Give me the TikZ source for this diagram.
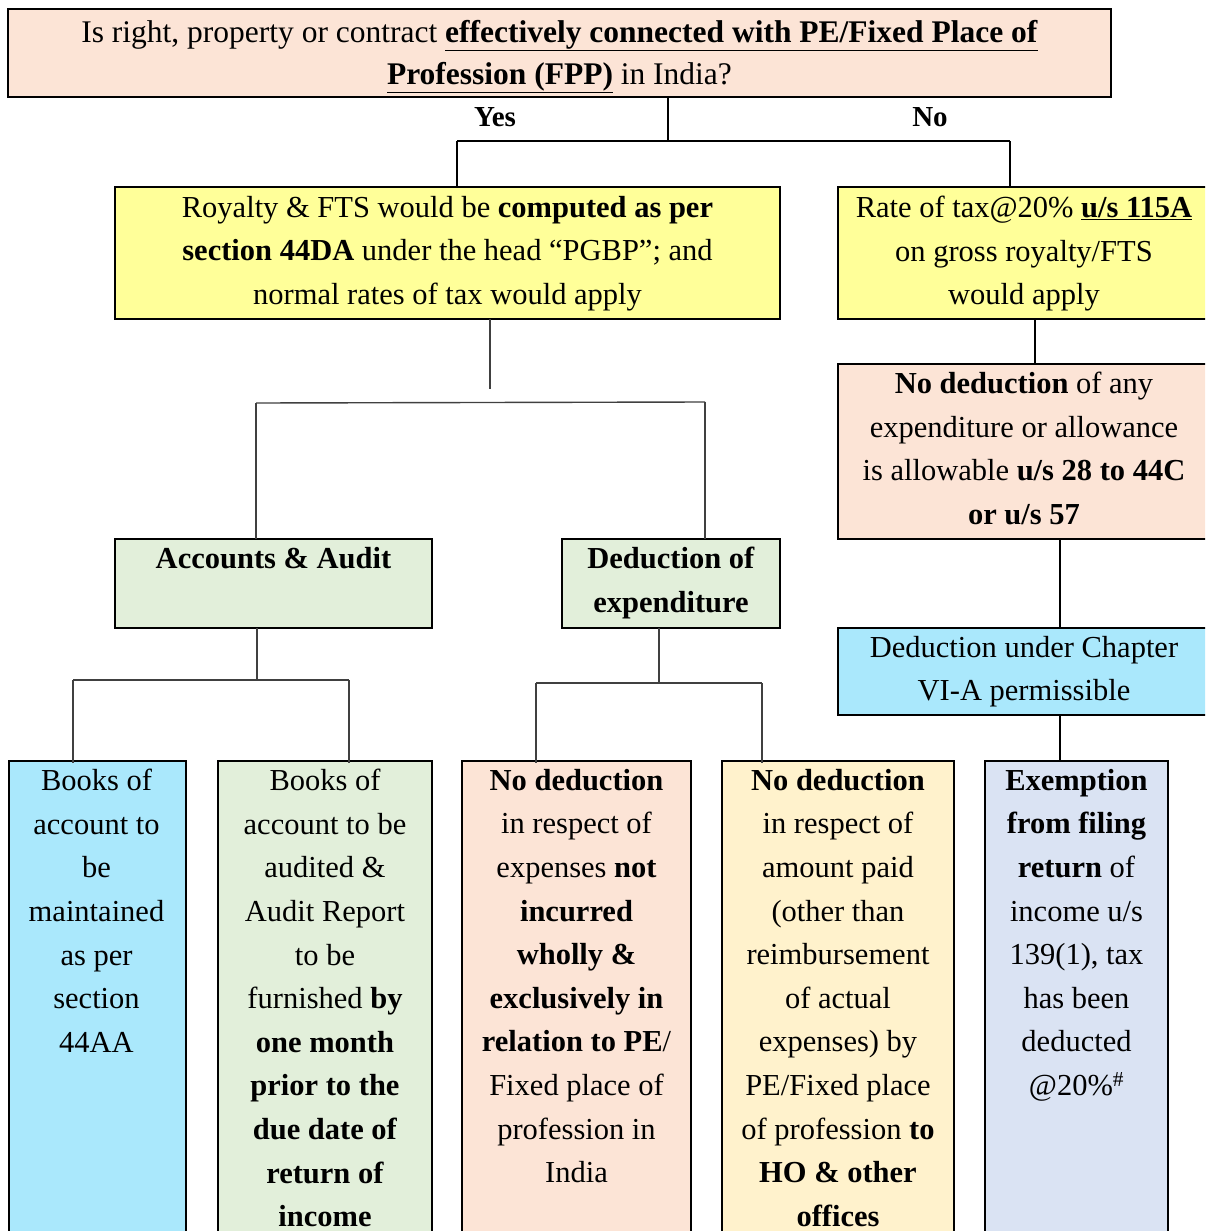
\documentclass[tikz,border=0pt]{standalone}
\usepackage{fontspec}
\setmainfont{Liberation Serif}
\definecolor{peach}{HTML}{FCE4D6}
\definecolor{yel}{HTML}{FFFF99}
\definecolor{grn}{HTML}{E2EFDA}
\definecolor{cyn}{HTML}{AAE8FC}
\definecolor{lyel}{HTML}{FFF2CC}
\definecolor{lblu}{HTML}{DAE3F3}
\definecolor{thinline}{HTML}{404040}
\tikzset{
  box/.style={draw=black, line width=2pt, inner sep=0pt, outer sep=0pt, anchor=north west},
  txt/.style={align=center, inner sep=0pt, anchor=north, font=\fontsize{30.5}{43.6}\selectfont},
  toptxt/.style={align=center, inner sep=0pt, anchor=north, font=\fontsize{31.5}{42}\selectfont},
  lbl/.style={inner sep=0pt, font=\bfseries\fontsize{29}{35}\selectfont},
  conn/.style={draw=black, line width=2pt},
  thinconn/.style={draw=thinline, line width=1.4pt},
}
\begin{document}
\begin{tikzpicture}[x=1pt,y=-1pt]
\useasboundingbox (0,0) rectangle (1205,1231);
\clip (0,0) rectangle (1205,1231);
\fill[white] (0,0) rectangle (1205,1231);

% boxes
\node[box, fill=peach, minimum width=1103, minimum height=88] (top) at (8,9) {};
\node[box, fill=yel, minimum width=665, minimum height=132] (roy) at (115,187) {};
\node[box, fill=yel, minimum width=372, minimum height=132] (rate) at (838,187) {};
\node[box, fill=peach, minimum width=372, minimum height=175] (nded) at (838,364) {};
\node[box, fill=cyn, minimum width=372, minimum height=87] (chap) at (838,628) {};
\node[box, fill=grn, minimum width=317, minimum height=89] (acc) at (115,539) {};
\node[box, fill=grn, minimum width=218, minimum height=89] (ded) at (562,539) {};
\node[box, fill=cyn, minimum width=177, minimum height=490] (b1) at (9,761) {};
\node[box, fill=grn, minimum width=214, minimum height=490] (b2) at (218,761) {};
\node[box, fill=peach, minimum width=229, minimum height=490] (b3) at (462,761) {};
\node[box, fill=lyel, minimum width=232, minimum height=490] (b4) at (722,761) {};
\node[box, fill=lblu, minimum width=183, minimum height=490] (b5) at (985,761) {};

% texts
\node[toptxt] (ttop) at ([yshift=-11pt]top.north) {Is right, property or contract \underline{\textbf{effectively connected with PE/Fixed Place of}}\\\underline{\textbf{Profession (FPP)}} in India?};
\node[lbl] (yes) at (495,117) {Yes};
\node[lbl] (no) at (930,117) {No};
\node[txt] (troy) at ([yshift=-9pt]roy.north) {Royalty \& FTS would be \textbf{computed as per}\\\textbf{section 44DA} under the head “PGBP”; and\\normal rates of tax would apply};
\node[txt] (trate) at ([yshift=-9pt]rate.north) {Rate of tax@20\% \underline{\textbf{u/s 115A}}\\on gross royalty/FTS\\would apply};
\node[txt] (tnded) at ([yshift=-8pt]nded.north) {\textbf{No deduction} of any\\expenditure or allowance\\is allowable \textbf{u/s 28 to 44C}\\\textbf{or u/s 57}};
\node[txt] (tchap) at ([yshift=-8pt]chap.north) {Deduction under Chapter\\VI-A permissible};
\node[txt] (tacc) at ([yshift=-8pt]acc.north) {\textbf{Accounts \& Audit}};
\node[txt] (tded) at ([yshift=-8pt]ded.north) {\textbf{Deduction of}\\\textbf{expenditure}};
\node[txt] (tb1) at ([yshift=-8pt,xshift=-1pt]b1.north) {Books of\\account to\\be\\maintained\\as per\\section\\44AA};
\node[txt] (tb2) at ([yshift=-8pt]b2.north) {Books of\\account to be\\audited \&\\Audit Report\\to be\\furnished \textbf{by}\\\textbf{one month}\\\textbf{prior to the}\\\textbf{due date of}\\\textbf{return of}\\\textbf{income}};
\node[txt] (tb3) at ([yshift=-8pt]b3.north) {\textbf{No deduction}\\in respect of\\expenses \textbf{not}\\\textbf{incurred}\\\textbf{wholly \&}\\\textbf{exclusively in}\\\textbf{relation to PE}/\\Fixed place of\\profession in\\India};
\node[txt] (tb4) at ([yshift=-8pt]b4.north) {\textbf{No deduction}\\in respect of\\amount paid\\(other than\\reimbursement\\of actual\\expenses) by\\PE/Fixed place\\of profession \textbf{to}\\\textbf{HO \& other}\\\textbf{offices}};
\node[txt] (tb5) at ([yshift=-8pt]b5.north) {\textbf{Exemption}\\\textbf{from filing}\\\textbf{return} of\\income u/s\\139(1), tax\\has been\\deducted\\@20\%\textsuperscript{\#}};

% junction coordinates
\coordinate (j0) at (668,141);
\coordinate (jl) at (457,141);
\coordinate (jr) at (1010,141);
\coordinate (xr1) at (1035,0);
\coordinate (xr2) at (1060,0);
\coordinate (rend) at (490,389);
\coordinate (f2l) at (256,403);
\coordinate (f2r) at (705,402);
\coordinate (xa) at (257,0);
\coordinate (f3l) at (73,680);
\coordinate (f3r) at (349,680);
\coordinate (xd) at (659,0);
\coordinate (f4l) at (536,683);
\coordinate (f4r) at (762,683);

% connectors
\draw[conn] (top.south -| j0) -- (j0);
\draw[conn] (jl) -- (jr);
\draw[conn] (jl) -- (jl |- roy.north);
\draw[conn] (jr) -- (jr |- rate.north);
\draw[conn] (rate.south -| xr1) -- (nded.north -| xr1);
\draw[conn] (nded.south -| xr2) -- (chap.north -| xr2);
\draw[conn] (chap.south -| xr2) -- (b5.north -| xr2);

\draw[thinconn] (roy.south -| rend) -- (rend);
\draw[thinconn] (f2l) -- (f2r);
\draw[thinconn] (f2l) -- (f2l |- acc.north);
\draw[thinconn] (f2r) -- (f2r |- ded.north);
\draw[thinconn] (acc.south -| xa) -- (f3l -| xa);
\draw[thinconn] (f3l) -- (f3r);
\draw[thinconn] (f3l) -- ([yshift=-2pt]f3l |- b1.north);
\draw[thinconn] (f3r) -- ([yshift=-2pt]f3r |- b2.north);
\draw[thinconn] (ded.south -| xd) -- (f4l -| xd);
\draw[thinconn] (f4l) -- (f4r);
\draw[thinconn] (f4l) -- ([yshift=-2pt]f4l |- b3.north);
\draw[thinconn] (f4r) -- ([yshift=-2pt]f4r |- b4.north);
\end{tikzpicture}
\end{document}
